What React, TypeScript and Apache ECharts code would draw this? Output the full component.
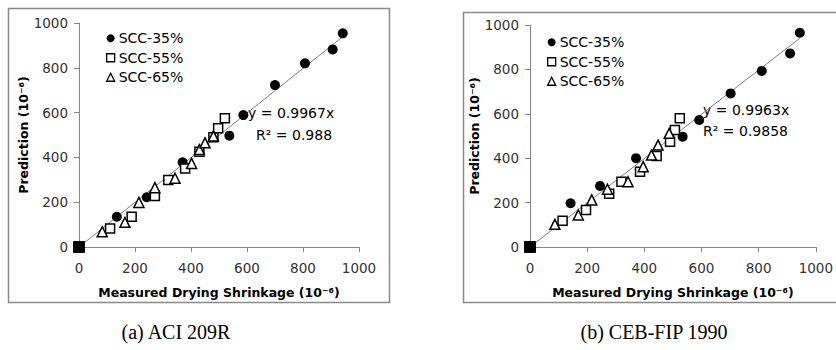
import React, { useEffect, useRef } from "react";
import * as echarts from "echarts";

// ---------- data ----------
const seriesNames = ["SCC-35%", "SCC-55%", "SCC-65%"];
const captions = ["(a) ACI 209R", "(b) CEB-FIP 1990"];
const xTitle = "Measured Drying Shrinkage (10⁻⁶)";
const yTitle = "Prediction (10⁻⁶)";

// (a) ACI 209R  [measured, predicted]
const aci35 = [[0, 0], [135, 135], [242, 222], [370, 378], [537, 497], [587, 589], [700, 723], [807, 820], [906, 882], [942, 954]];
const aci55 = [[0, 0], [111, 83], [188, 135], [271, 228], [319, 299], [379, 351], [430, 425], [480, 490], [497, 530], [521, 575]];
const aci65 = [[0, 0], [83, 68], [164, 110], [214, 199], [271, 265], [343, 307], [402, 373], [430, 435], [450, 465], [480, 495]];
const aciSlope = 0.9967;
const aciR2 = "0.988";
const aciTrendX = [0, 940];

// (b) CEB-FIP 1990
const ceb35 = [[0, 0], [142, 197], [245, 275], [371, 400], [534, 497], [592, 572], [702, 692], [811, 793], [910, 872], [944, 965]];
const ceb55 = [[0, 0], [114, 118], [196, 167], [277, 240], [320, 294], [385, 339], [443, 410], [490, 474], [507, 527], [524, 580]];
const ceb65 = [[0, 0], [87, 102], [169, 144], [216, 212], [271, 260], [343, 294], [396, 362], [425, 414], [448, 459], [487, 512]];
const cebSlope = 0.9963;
const cebR2 = "0.9858";
const cebTrendX = [0, 944];

const FONT = "DejaVu Sans";
const AXIS_GRAY = "#868686";

function makeAxes(gi: number) {
  const common = {
    type: "value",
    gridIndex: gi,
    min: 0,
    max: 1000,
    interval: 200,
    axisLine: { show: true, onZero: false, lineStyle: { color: AXIS_GRAY, width: 1 } },
    axisTick: { show: true, length: 5, lineStyle: { color: AXIS_GRAY } },
    splitLine: { show: false },
    nameLocation: "middle",
    nameTextStyle: { fontSize: 12.5, fontWeight: "bold", color: "#000", fontFamily: FONT },
  };
  const label = { fontSize: 13.5, color: "#333", fontFamily: FONT, formatter: (v: number) => String(v) };
  const x = { ...common, axisLabel: { ...label, margin: 14 }, name: xTitle, nameGap: 39 };
  const y = { ...common, axisLabel: { ...label, margin: 11 }, name: yTitle, nameGap: 44 };
  return { x, y };
}

const originBlack = (arr: number[][]) =>
  arr.map((p) => (p[0] === 0 && p[1] === 0 ? { value: p, symbol: "rect", symbolSize: 10, itemStyle: { color: "#000", borderColor: "#000" } } : p));

function makeSeries(gi: number, d35: number[][], d55: number[][], d65: number[][], slope: number, trendX: number[]) {
  return [
    {
      name: "Linear",
      type: "line",
      xAxisIndex: gi,
      yAxisIndex: gi,
      data: trendX.map((x) => [x, x * slope]),
      symbol: "none",
      silent: true,
      z: 1,
      lineStyle: { color: "#7f7f7f", width: 1 },
    },
    {
      name: seriesNames[0],
      type: "scatter",
      xAxisIndex: gi,
      yAxisIndex: gi,
      data: originBlack(d35),
      symbol: "circle",
      symbolSize: 10,
      z: 3,
      itemStyle: { color: "#000", opacity: 1 },
    },
    {
      name: seriesNames[1],
      type: "scatter",
      xAxisIndex: gi,
      yAxisIndex: gi,
      data: originBlack(d55),
      symbol: "rect",
      symbolSize: 9,
      z: 4,
      itemStyle: { color: "#fff", borderColor: "#000", borderWidth: 1.5, opacity: 1 },
    },
    {
      name: seriesNames[2],
      type: "scatter",
      xAxisIndex: gi,
      yAxisIndex: gi,
      data: originBlack(d65),
      symbol: "triangle",
      symbolSize: 10,
      z: 4,
      itemStyle: { color: "#fff", borderColor: "#000", borderWidth: 1.5, opacity: 1 },
    },
  ];
}

function makeLegend(left: number, top: number) {
  return {
    orient: "vertical",
    left,
    top,
    itemWidth: 8,
    itemHeight: 8,
    itemGap: 5,
    data: seriesNames,
    selectedMode: false,
    itemStyle: { borderWidth: 1.3 },
    textStyle: { fontSize: 14, color: "#000", fontFamily: FONT, lineHeight: 14.5, padding: [0, 0, 0, -1] },
  };
}

export default function App() {
  const ref = useRef<HTMLDivElement>(null);

  useEffect(() => {
    if (!ref.current) return;
    const chart = echarts.init(ref.current, null, { renderer: "svg" });
    const a0 = makeAxes(0);
    const a1 = makeAxes(1);
    const eqStyle = { fontSize: 14, fill: "#000", fontFamily: FONT };
    const capStyle = { fontSize: 20, fontFamily: "Liberation Serif", fill: "#000", align: "center", verticalAlign: "middle" };
    chart.setOption({
      animation: false,
      backgroundColor: "#fff",
      grid: [
        { left: 79, top: 23, width: 280, height: 224 },
        { left: 530, top: 25, width: 286, height: 222 },
      ],
      xAxis: [a0.x, a1.x],
      yAxis: [a0.y, a1.y],
      legend: [makeLegend(101, 26), makeLegend(542, 30)],
      series: [
        ...makeSeries(0, aci35, aci55, aci65, aciSlope, aciTrendX),
        ...makeSeries(1, ceb35, ceb55, ceb65, cebSlope, cebTrendX),
      ],
      graphic: [
        {
          type: "rect",
          silent: true,
          z: -1,
          shape: { x: 8.5, y: 8.5, width: 381, height: 294 },
          style: { fill: "none", stroke: "#8a8a8a", lineWidth: 1.5 },
        },
        {
          type: "rect",
          silent: true,
          z: -1,
          shape: { x: 463.5, y: 12.5, width: 380, height: 290 },
          style: { fill: "none", stroke: "#8a8a8a", lineWidth: 1.5 },
        },
        { type: "text", left: 248, top: 106, style: { ...eqStyle, text: `y = ${aciSlope}x` } },
        { type: "text", left: 256, top: 128, style: { ...eqStyle, text: `R² = ${aciR2}` } },
        { type: "text", left: 703, top: 103, style: { ...eqStyle, text: `y = ${cebSlope}x` } },
        { type: "text", left: 703, top: 124, style: { ...eqStyle, text: `R² = ${cebR2}` } },
        { type: "text", x: 176, y: 332, style: { ...capStyle, text: captions[0] } },
        { type: "text", x: 654, y: 332, style: { ...capStyle, text: captions[1] } },
      ],
    });
    return () => chart.dispose();
  }, []);

  return <div ref={ref} style={{ width: 836, height: 350, position: "absolute", left: 0, top: 0 }} />;
}
